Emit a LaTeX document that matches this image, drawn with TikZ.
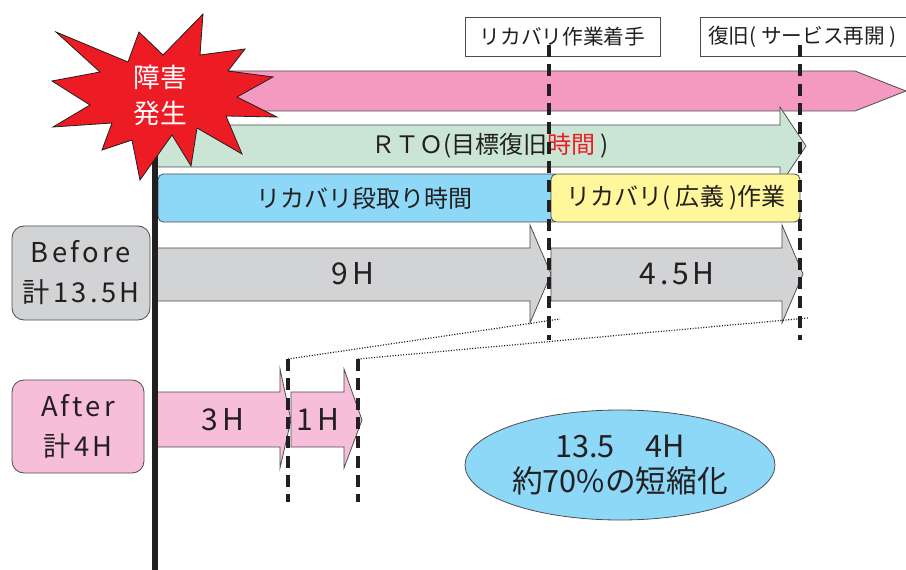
\documentclass[tikz,border=0pt]{standalone}
\usepackage{fontspec}
\setmainfont{Noto Sans CJK JP}
\newfontfamily\jp{Noto Sans CJK JP}
\newfontfamily\jpls[LetterSpace=12]{Noto Sans CJK JP}
\usetikzlibrary{shapes.geometric}
\definecolor{burstred}{HTML}{ED1C24}
\definecolor{toppink}{HTML}{F49AC1}
\definecolor{rtogreen}{HTML}{CBE5D4}
\definecolor{prepblue}{HTML}{8DD8F7}
\definecolor{workyellow}{HTML}{FFF799}
\definecolor{beforegray}{HTML}{D1D3D4}
\definecolor{afterpink}{HTML}{F6BED8}
\definecolor{ink}{HTML}{231F20}
\definecolor{edge}{HTML}{4D4D4F}
\begin{document}
\begin{tikzpicture}[x=0.75pt,y=-0.75pt,
  outline/.style={draw=edge, line width=0.6pt},
  vdash/.style={line width=3pt, draw=ink, dash pattern=on 9pt off 5.5pt},
  dotline/.style={line width=0.9pt, draw=ink, dash pattern=on 0.8pt off 1.2pt},
  lbl/.style={font=\jp\fontsize{15.5}{18}\selectfont, text=ink, inner sep=0pt},
  boxtxt/.style={font=\jp\fontsize{18}{21}\selectfont, text=ink, inner sep=0pt},
  hrs/.style={font=\jpls\fontsize{22.5}{26}\selectfont, text=ink, inner sep=0pt},
  side/.style={font=\jpls\fontsize{20.5}{30}\selectfont, text=ink, align=center, inner sep=0pt},
  labelbox/.style={draw=edge, line width=0.6pt, fill=white, inner sep=0pt}
]
\useasboundingbox (0,0) rectangle (906,570);

% top labels
\node[labelbox, minimum width=146.25pt, minimum height=29.25pt] (start) at (562.5,36.5) {};
\node[lbl] (starttxt) at (start.center) {リカバリ作業着手};
\draw[labelbox] (700,17) rectangle (915,56);
\node[lbl, anchor=west] (resume) at (708,36.5) {復旧( サービス再開 )};

% big pink arrow
\draw[outline, fill=toppink] (155,71) -- (855,71) -- (906,91) -- (855,111) -- (155,111) -- cycle;

% RTO arrow
\draw[outline, fill=rtogreen] (155,125) -- (780,125) -- (780,107) -- (806,146) -- (780,185) -- (780,167) -- (155,167) -- cycle;
\node[boxtxt] (rto) at (490,146) {ＲＴＯ(目標復旧\textcolor{burstred}{時間} )};

% prep / work boxes
\draw[outline, fill=prepblue, rounded corners=4pt] (158,174) rectangle (560,222);
\node[boxtxt] (prep) at (364,198) {リカバリ段取り時間};
\draw[outline, fill=workyellow, rounded corners=4pt] (551,174) rectangle (800,222);
\node[boxtxt] (work) at (676,198) {リカバリ( 広義 )作業};

% before arrows
\draw[outline, fill=beforegray] (155,248) -- (530,248) -- (530,225) -- (551,274) -- (530,323) -- (530,301) -- (155,301) -- cycle;
\node[hrs] (nine) at (353,274) {9H};
\draw[outline, fill=beforegray] (551,248) -- (782,248) -- (782,225) -- (803,274) -- (782,323) -- (782,301) -- (551,301) -- cycle;
\node[hrs] (fourfive) at (677,274) {4.5H};

% after arrows
\draw[outline, fill=afterpink] (155,392) -- (280,392) -- (280,369) -- (291,420) -- (280,468) -- (280,447) -- (155,447) -- cycle;
\node[hrs] (three) at (223,420) {3H};
\draw[outline, fill=afterpink] (291,392) -- (344,392) -- (344,369) -- (362,420) -- (344,468) -- (344,447) -- (291,447) -- cycle;
\node[hrs] (one) at (318,420) {1H};

% side labels
\draw[outline, fill=beforegray, rounded corners=9pt] (12,226) rectangle (150,320);
\node[side] (before) at (81,273) {Before\\計13.5H};
\draw[outline, fill=afterpink, rounded corners=9pt] (12,380) rectangle (144,473);
\node[side] (after) at (78,427) {After\\計4H};

% dotted guide lines
\coordinate (a1) at (288,359);
\coordinate (a2) at (358,359);
\coordinate (b1) at (560,319);
\coordinate (b2) at (808,318);
\draw[dotline] (a1) -- (b1);
\draw[dotline] (a2) -- (b2);

% dashed markers
\coordinate (d1t) at (549,45);
\coordinate (d1b) at (549,340);
\coordinate (d2t) at (800,45);
\coordinate (d2b) at (800,340);
\draw[vdash] (d1t) -- (d1b);
\draw[vdash] (d2t) -- (d2b);
\coordinate (e1b) at (288,502);
\coordinate (e2b) at (358,502);
\draw[vdash] (a1) -- (e1b);
\draw[vdash] (a2) -- (e2b);

% time axis
\coordinate (axtop) at (155,120);
\coordinate (axbot) at (155,572);
\draw[line width=4.5pt, draw=ink] (axtop) -- (axbot);

% starburst
\draw[line width=0.6pt, draw=ink, fill=burstred]
  (56,32) -- (128,62) -- (139,32) -- (163,55) -- (203,14) -- (200,55) -- (245,49) -- (228,71)
  -- (273,77) -- (237,97) -- (277,117) -- (226,116) -- (242,154) -- (197,128) -- (191,166)
  -- (172,135) -- (140,180) -- (132,140) -- (102,150) -- (112,123) -- (53,127) -- (90,105)
  -- (52,81) -- (100,72) -- cycle;
\node[font=\jp\fontsize{20}{27}\selectfont, text=white, align=center, inner sep=0pt] (fault) at (160,95) {障害\\発生};

% summary ellipse
\node[ellipse, outline, fill=prepblue, minimum width=232.5pt, minimum height=82.5pt, inner sep=0pt] (summary) at (620,465) {};
\node[font=\jp\fontsize{23}{26}\selectfont, text=ink, align=center, inner sep=0pt] (sumtxt) at (620,465) {13.5　4H\\約70\%の短縮化};
\end{tikzpicture}
\end{document}
